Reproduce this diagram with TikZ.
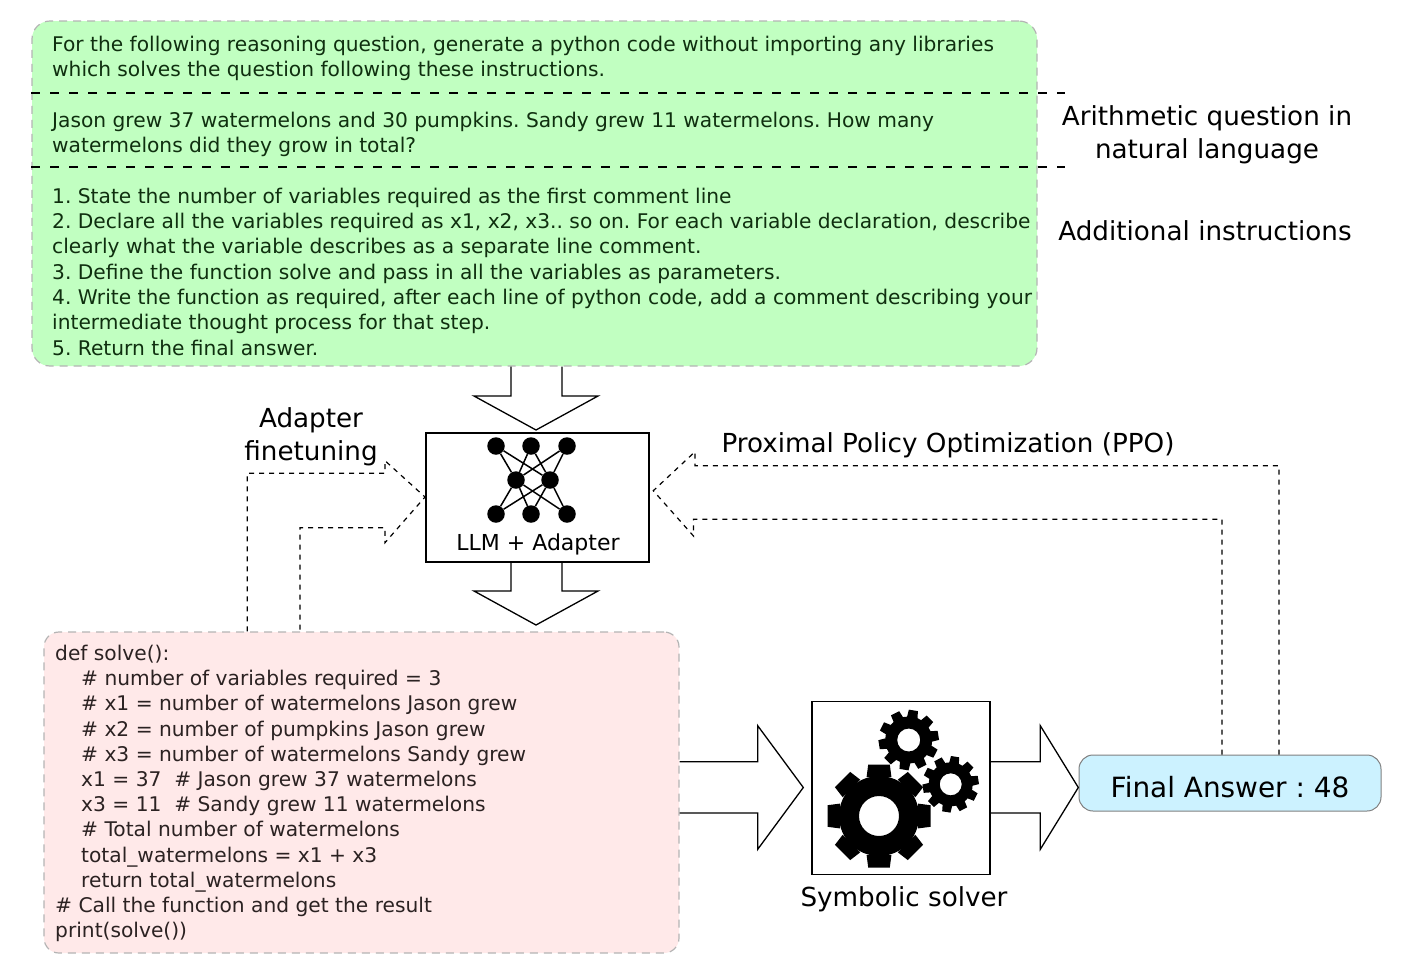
\documentclass[tikz,border=0pt]{standalone}
\usepackage{fontspec}
\setmainfont{DejaVu Sans}
\usetikzlibrary{calc}
\definecolor{promptfill}{HTML}{C1FFC1}
\definecolor{prompttext}{HTML}{0F2F0F}
\definecolor{codefill}{HTML}{FFE9E9}
\definecolor{codetext}{HTML}{2B2222}
\definecolor{answerfill}{HTML}{CCF2FF}
\definecolor{boxgrey}{HTML}{B4B4B4}
\tikzset{
  promptbox/.style={draw=boxgrey,fill=promptfill,dashed,dash pattern=on 8pt off 6pt,line width=1.2pt,rounded corners=18pt,minimum width=1005pt,minimum height=345pt,inner sep=0pt},
  codebox/.style={draw=boxgrey,fill=codefill,dash pattern=on 8pt off 6pt,line width=1.2pt,rounded corners=15pt,minimum width=635pt,minimum height=321pt,inner sep=0pt},
  answerbox/.style={draw=gray,fill=answerfill,line width=1pt,rounded corners=14pt,minimum width=302pt,minimum height=56pt,text height=29pt,text depth=0pt,inner ysep=0pt,font=\fontsize{27.9}{32}\selectfont},
  blackbox/.style={draw,line width=2.3pt,fill=white,inner sep=0pt},
  blocktext/.style={anchor=north west,align=left,inner sep=0pt},
  biglabel/.style={align=center,font=\fontsize{26.2}{33}\selectfont,inner sep=0pt},
  blockarrow/.style={draw,line width=1.3pt,line join=miter},
  dashedarrow/.style={draw,line width=1.2pt,dash pattern=on 5pt off 5pt},
  sepline/.style={line width=1.2pt,dash pattern=on 9pt off 10pt},
  neuron/.style={circle,fill=black,minimum size=17.5pt,inner sep=0pt},
}
% gear: centre, outer radius, body radius, hole radius, teeth, tooth half width, turn
\newcommand{\gearshape}[7]{
  \fill[even odd rule] (#1) circle[radius=#3] (#1) circle[radius=#4];
  \foreach \i in {1,...,#5}
    \fill[shift={(#1)},rotate=#7+\i*360/#5] (#3-1,-#6*1.15) -- (#2,-#6) -- (#2,#6) -- (#3-1,#6*1.15) -- cycle;
}
\begin{document}
\frenchspacing
\begin{tikzpicture}[x=1pt,y=-1pt]
  \useasboundingbox (0,0) rectangle (1404,978);

  \node [promptbox] (prompt) at (534.5,193.5) {};
  \node [codebox] (code) at (361.5,792.5) {};
  \node [answerbox] (answer) at (1230,783) {Final Answer : 48};
  \node [blackbox,minimum width=223pt,minimum height=129pt] (llm) at (537.5,497.5) {};
  \node [blackbox,line width=1.5pt,minimum width=178pt,minimum height=173pt] (solver) at (901,788) {};

  \node [blocktext,text=prompttext,font=\fontsize{20.2}{25.3}\selectfont] (prompttxt) at (52,36) {%
    For the following reasoning question, generate a python code without importing any libraries\\
    which solves the question following these instructions.\\[25.3pt]
    Jason grew 37 watermelons and 30 pumpkins. Sandy grew 11 watermelons. How many\\
    watermelons did they grow in total?\\[25.3pt]
    1. State the number of variables required as the first comment line\\
    2. Declare all the variables required as x1, x2, x3.. so on. For each variable declaration, describe\\
    clearly what the variable describes as a separate line comment.\\
    3. Define the function solve and pass in all the variables as parameters.\\
    4. Write the function as required, after each line of python code, add a comment describing your\\
    intermediate thought process for that step.\\
    5. Return the final answer.};
  \node [blocktext,text=codetext,font=\fontsize{20.2}{25.2}\selectfont] (codetxt) at (55,645) {%
    def solve():\\
    \hspace*{26pt}\# number of variables required = 3\\
    \hspace*{26pt}\# x1 = number of watermelons Jason grew\\
    \hspace*{26pt}\# x2 = number of pumpkins Jason grew\\
    \hspace*{26pt}\# x3 = number of watermelons Sandy grew\\
    \hspace*{26pt}x1 = 37\ \ \# Jason grew 37 watermelons\\
    \hspace*{26pt}x3 = 11\ \ \# Sandy grew 11 watermelons\\
    \hspace*{26pt}\# Total number of watermelons\\
    \hspace*{26pt}total\_watermelons = x1 + x3\\
    \hspace*{26pt}return total\_watermelons\\
    \# Call the function and get the result\\
    print(solve())};

  \draw [sepline] (prompt.west |- 0,93) -- (1065,93);
  \draw [sepline] (prompt.west |- 0,167) -- (1065,167);

  \node [biglabel] (question) at (1207,135) {Arithmetic question in\\natural language};
  \node [biglabel] (extra) at (1205,231) {Additional instructions};
  \node [biglabel] (finetune) at (311,437) {Adapter\\finetuning};
  \node [biglabel] (ppo) at (948,445) {Proximal Policy Optimization (PPO)};
  \node [biglabel] (solvername) at (904,899) {Symbolic solver};
  \node [inner sep=0pt,font=\fontsize{22}{26}\selectfont] (llmname) at (538,544) {LLM + Adapter};

  % network inside the llm box
  \foreach \x [count=\i] in {496,531,567} {
    \node [neuron] (t\i) at (\x,446) {};
    \node [neuron] (b\i) at (\x,514) {};
  }
  \node [neuron] (m1) at (516,480) {};
  \node [neuron] (m2) at (550,480) {};
  \foreach \i in {1,2,3}
    \foreach \j in {1,2} {
      \draw [line width=1.5pt] (t\i) -- (m\j);
      \draw [line width=1.5pt] (b\i) -- (m\j);
    }

  % gears inside the solver box
  \coordinate (gear1) at (879,816);
  \coordinate (gear2) at (908.7,740);
  \coordinate (gear3) at (950.7,784.3);
  \gearshape{gear1}{51.5}{40}{20}{8}{10.8}{0}
  \gearshape{gear2}{30}{23.5}{11.5}{10}{4.6}{9}
  \gearshape{gear3}{28}{22}{11}{10}{4.2}{9}

  % block arrows
  \coordinate (tipa) at (536,430);
  \coordinate (tipb) at (536,625);
  \coordinate (tipc) at (803.3,787.5);
  \coordinate (tipd) at (1078.3,787.5);
  \draw [blockarrow] ([xshift=-25pt]tipa |- prompt.south) -- ([xshift=-25pt,yshift=34pt]tipa) -- ([xshift=-62pt,yshift=34pt]tipa) -- (tipa)
    -- ([xshift=62pt,yshift=34pt]tipa) -- ([xshift=26pt,yshift=34pt]tipa) -- ([xshift=26pt]tipa |- prompt.south);
  \draw [blockarrow] ([xshift=-25pt]tipb |- llm.south) -- ([xshift=-25pt,yshift=34pt]tipb) -- ([xshift=-62pt,yshift=34pt]tipb) -- (tipb)
    -- ([xshift=62pt,yshift=34pt]tipb) -- ([xshift=26pt,yshift=34pt]tipb) -- ([xshift=26pt]tipb |- llm.south);
  \draw [blockarrow] (code.east |- 0,761.7) -- (757.7,761.7) -- (757.7,725.7) -- (tipc) -- (757.7,849.3) -- (757.7,813) -- (code.east |- 0,813);
  \draw [blockarrow] (solver.east |- 0,761.7) -- (1040.3,761.7) -- (1040.3,725.7) -- (tipd) -- (1040.3,849.3) -- (1040.3,813) -- (solver.east |- 0,813);

  % dashed feedback arrows
  \coordinate (tipe) at (425,497);
  \coordinate (tipf) at (653.3,490.7);
  \draw [dashedarrow] (247.3,0 |- code.north) -- (247.3,473.3) -- (385,473.3) -- (385,460.7) -- (tipe) -- (385,542.7) -- (385,527.7) -- (300,527.7) -- (300,0 |- code.north);
  \draw [dashedarrow] (1279,0 |- answer.north) -- (1279,465.7) -- (695,465.7) -- (695,451.7) -- (tipf) -- (693.5,536) -- (693.5,519.3) -- (1222,519.3) -- (1222,0 |- answer.north);
\end{tikzpicture}
\end{document}
